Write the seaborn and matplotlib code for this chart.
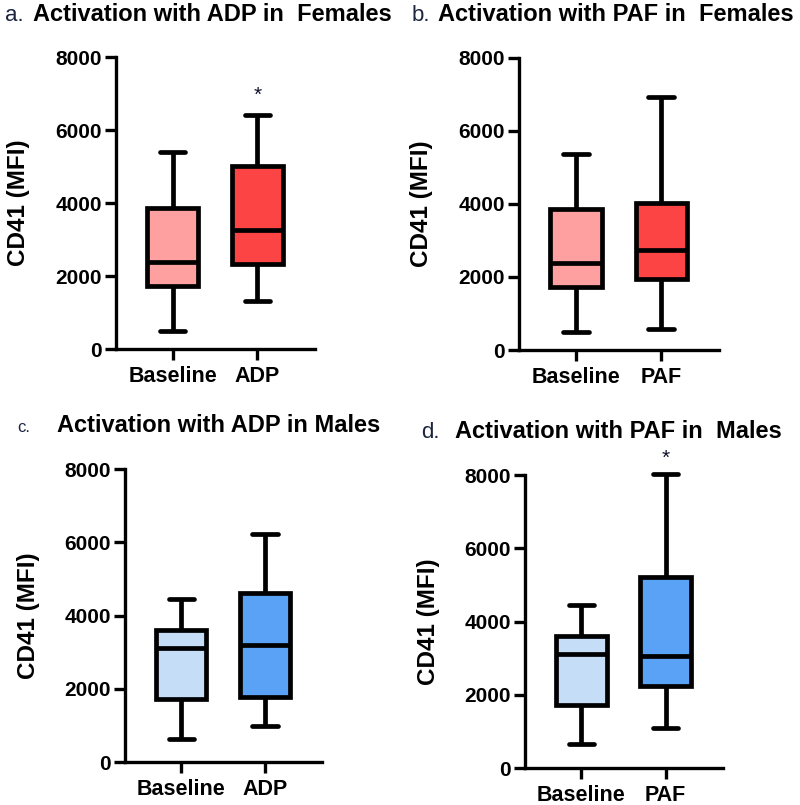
import matplotlib
matplotlib.use("Agg")
import matplotlib.pyplot as plt
import seaborn as sns
import pandas as pd

# Five-number summaries: [min, Q1, median, Q3, max]
fem_baseline = [483, 1713, 2378, 3870, 5390]
fem_adp = [1321, 2323, 3262, 5021, 6405]
fem_baseline_b = [483, 1715, 2372, 3860, 5382]
fem_paf = [575, 1934, 2737, 4041, 6933]
male_baseline = [640, 1712, 3117, 3615, 4450]
male_adp = [975, 1777, 3207, 4620, 6214]
male_baseline_d = [655, 1709, 3118, 3609, 4455]
male_paf = [1091, 2227, 3064, 5227, 8027]

panels = [
    dict(letter="a.", title="Activation with ADP in  Females", groups=["Baseline", "ADP"],
         vals=[fem_baseline, fem_adp], colors=["#FFA0A0", "#FD4444"], star=6950,
         rect=(116, 57, 315, 349), letter_x=5, title_x=33, base_y=21, lsize=16),
    dict(letter="b.", title="Activation with PAF in  Females", groups=["Baseline", "PAF"],
         vals=[fem_baseline_b, fem_paf], colors=["#FFA0A0", "#FD4444"], star=None,
         rect=(519, 58, 719, 350), letter_x=412, title_x=438, base_y=21, lsize=16),
    dict(letter="c.", title="Activation with ADP in Males", groups=["Baseline", "ADP"],
         vals=[male_baseline, male_adp], colors=["#C6DDF7", "#5AA2F5"], star=None,
         rect=(125, 469, 322, 762), letter_x=17, title_x=57, base_y=432, lsize=12),
    dict(letter="d.", title="Activation with PAF in  Males", groups=["Baseline", "PAF"],
         vals=[male_baseline_d, male_paf], colors=["#C6DDF7", "#5AA2F5"], star=8460,
         rect=(525, 475, 723, 768), letter_x=421, title_x=455, base_y=438, lsize=16),
]

W, H = 800, 805
fig = plt.figure(figsize=(W / 100, H / 100), dpi=100)
sns.set_style("white")
plt.rcParams['font.family'] = ['Liberation Sans', 'DejaVu Sans']
plt.rcParams['text.color'] = 'black'
plt.rcParams['axes.labelcolor'] = 'black'
plt.rcParams['xtick.color'] = 'black'
plt.rcParams['ytick.color'] = 'black'

for p in panels:
    l, t, r, b = p["rect"]
    ax = fig.add_axes([l / W, 1 - b / H, (r - l) / W, (b - t) / H])
    rows = []
    for g, v in zip(p["groups"], p["vals"]):
        for x in v:
            rows.append({"cond": g, "value": x})
    df = pd.DataFrame(rows)
    sns.boxplot(data=df, x="cond", y="value", hue="cond", order=p["groups"],
                palette=dict(zip(p["groups"], p["colors"])), legend=False,
                whis=(0, 100), width=0.6, linewidth=3.4, linecolor="black",
                ax=ax, saturation=1)
    for ln in ax.lines:
        ln.set_clip_on(False)
    ax.set_ylim(0, 8000)
    ax.set_xlim(-0.67, 1.68)
    ax.set_yticks([0, 2000, 4000, 6000, 8000])
    ax.set_xlabel("")
    ax.set_ylabel("CD41 (MFI)", fontsize=17.5, fontweight="bold", color="black")
    ax.yaxis.set_label_coords(-0.43, 0.5)
    for s in ["top", "right"]:
        ax.spines[s].set_visible(False)
    for s in ["left", "bottom"]:
        ax.spines[s].set_linewidth(2.4)
        ax.spines[s].set_color("black")
    ax.tick_params(axis="both", which="major", direction="out", length=8,
                   width=2.4, color="black", labelcolor="black", labelsize=15,
                   left=True, bottom=True)
    ax.tick_params(axis="x", pad=4, labelsize=15.5)
    ax.tick_params(axis="y", pad=2)
    for lab in ax.get_xticklabels() + ax.get_yticklabels():
        lab.set_fontweight("bold")
    if p["star"] is not None:
        ax.text(1, p["star"], "*", ha="center", va="center", fontsize=15,
                color="#10102a", clip_on=False)
    by = 1 - p["base_y"] / H
    fig.text(p["letter_x"] / W, by, p["letter"], fontsize=p["lsize"], color="#1C2440",
             va="baseline", ha="left")
    fig.text(p["title_x"] / W, by, p["title"], fontsize=17, fontweight="bold",
             color="black", va="baseline", ha="left")

fig.savefig("out.png", dpi=100)
